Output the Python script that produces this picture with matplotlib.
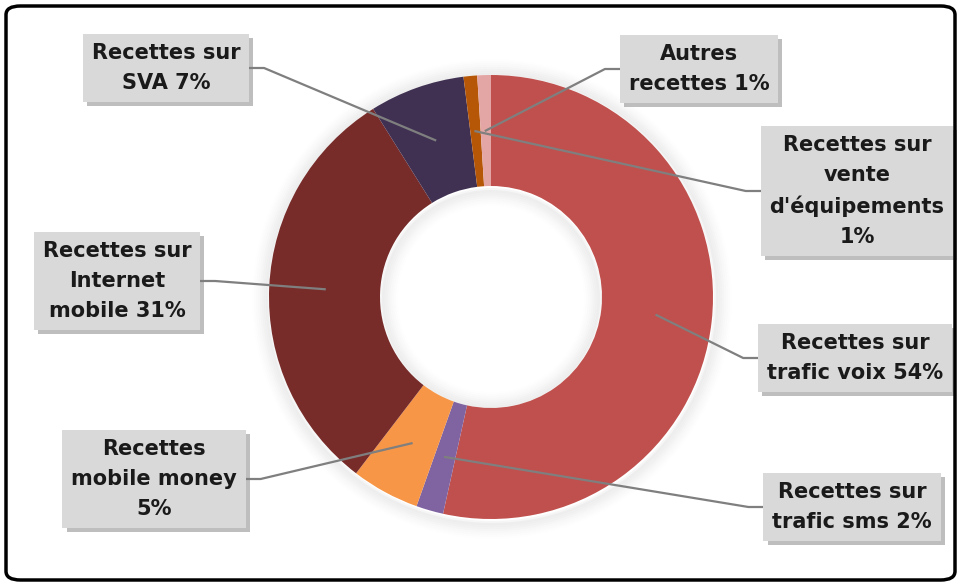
import matplotlib.pyplot as plt
import matplotlib.patheffects as pe
from matplotlib.patches import FancyBboxPatch, Circle
import numpy as np

# Data (clockwise from 12 o'clock)
labels = ["Recettes sur\ntrafic voix 54%", "Recettes sur\ntrafic sms 2%",
          "Recettes\nmobile money\n5%", "Recettes sur\nInternet\nmobile 31%",
          "Recettes sur\nSVA 7%", "Recettes sur\nvente\nd'équipements\n1%",
          "Autres\nrecettes 1%"]
values = [54, 2, 5, 31, 7, 1, 1]
colors = ['#C0504D', '#8064A2', '#F79646', '#772C2A', '#403152', '#B65708', '#E3A6A4']

# label box centres in pixel coords (x, y from top)
label_pos = [(855, 358), (852, 507), (154, 479), (117, 281),
             (166, 68), (857, 191), (699, 69)]

W, H = 961, 586
fig = plt.figure(figsize=(W / 100, H / 100), dpi=100)
ax = fig.add_axes([0, 0, 1, 1])

cx, cy, r = 491, H - 297, 222

# soft glow around the ring
for k in range(8):
    a = 0.035 * (1 - k / 8)
    ax.add_patch(Circle((cx + 1, cy - 2), r + 2 + k * 2, fc='none', ec='#000000', lw=3, alpha=a))
    ax.add_patch(Circle((cx, cy - 2), r * 0.5 - 2 - k * 2, fc='none', ec='#000000', lw=3, alpha=a))

wedges, _ = ax.pie(values, colors=colors, startangle=90, counterclock=False,
                   radius=r, center=(cx, cy), frame=True,
                   wedgeprops=dict(width=r * 0.5, linewidth=0))
ax.set_xlim(0, W)
ax.set_ylim(0, H)
ax.set_aspect('equal')
ax.axis('off')

texts = []
for lab, (x, y) in zip(labels, label_pos):
    t = ax.text(x, H - y, lab, ha='center', va='center', fontsize=15, fontweight='bold',
                family='DejaVu Sans', color='#1a1a1a', linespacing=1.62, zorder=5,
                bbox=dict(boxstyle='square,pad=0.42', fc='#D9D9D9', ec='none'))
    t.get_bbox_patch().set_path_effects([pe.SimplePatchShadow(offset=(3, -3), shadow_rgbFace='#7f7f7f', alpha=0.5), pe.Normal()])
    texts.append(t)

# leader lines from each box to its slice
fig.canvas.draw()
inv = ax.transData.inverted()
for w, t in zip(wedges, texts):
    ang = np.deg2rad((w.theta1 + w.theta2) / 2)
    px = cx + 0.75 * r * np.cos(ang)
    py = cy + 0.75 * r * np.sin(ang)
    bb = t.get_bbox_patch().get_window_extent().transformed(inv)
    by = (bb.y0 + bb.y1) / 2
    if bb.x0 > cx:
        bx, ex = bb.x0, bb.x0 - 15
    else:
        bx, ex = bb.x1, bb.x1 + 15
    ax.plot([px, ex, bx], [py, by, by], color='#7F7F7F', lw=1.6, zorder=4)

# rounded frame
fig.patches.append(FancyBboxPatch((6 / W, 6 / H), (W - 12) / W, (H - 12) / H,
                                  boxstyle='round,pad=0,rounding_size=0.015',
                                  transform=fig.transFigure, fc='none', ec='black', lw=2.5))

fig.savefig('out.png', dpi=100)
